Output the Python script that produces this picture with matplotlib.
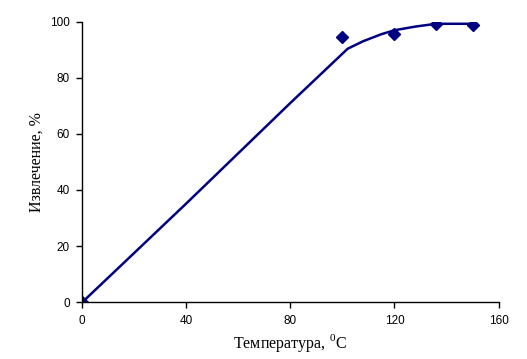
import matplotlib.pyplot as plt

# measured points (markers)
temp = [0, 100, 120, 136, 150]
extr = [0, 94.5, 95.6, 99.1, 98.9]

# smoothed curve as drawn
curve_t = [0, 14, 40, 80, 102, 108, 115, 120, 128, 136, 150]
curve_e = [0, 12.3, 35.2, 71.0, 90.3, 93.0, 95.5, 96.9, 98.2, 99.2, 99.2]

plt.rcParams['mathtext.fontset'] = 'custom'
plt.rcParams['mathtext.rm'] = 'Liberation Serif'

fig = plt.figure(figsize=(5.27, 3.59), dpi=100)
ax = fig.add_axes([0.156, 0.158, 0.79, 0.782])

ax.plot(curve_t, curve_e, color="#000080", lw=1.8)
ax.plot(temp, extr, "D", color="#000080", markersize=6.5, linestyle="none")

ax.set_xlim(0, 160)
ax.set_ylim(0, 100)
ax.set_xticks([0, 40, 80, 120, 160])
ax.set_yticks([0, 20, 40, 60, 80, 100])
ax.spines['top'].set_visible(False)
ax.spines['right'].set_visible(False)
for s in ['left', 'bottom']:
    ax.spines[s].set_linewidth(1.0)
ax.tick_params(direction='out', length=4, width=1.0, labelsize=8.5, pad=5)
for lbl in ax.get_xticklabels() + ax.get_yticklabels():
    lbl.set_family('Liberation Sans')

ax.set_xlabel(r'Температура, $^{0}$C', family='Liberation Serif', fontsize=11.5, labelpad=4)
ax.set_ylabel('Извлечение, %', family='Liberation Serif', fontsize=11.5, labelpad=4)

plt.savefig("out.png", dpi=100)
